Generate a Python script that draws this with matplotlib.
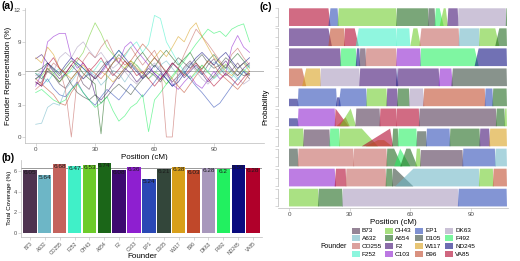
import matplotlib
matplotlib.use("Agg")
import matplotlib.pyplot as plt
from matplotlib.patches import Rectangle
import numpy as np

plt.rcParams['font.family'] = ['Liberation Sans', 'DejaVu Sans']

founders = ["B73", "A632", "CO255", "F252", "OH43", "A654", "F2", "C103",
            "EP1", "D105", "W117", "B96", "DK63", "F492", "ND245", "VA85"]
colors = ["#4E3350", "#6DB6C6", "#C4635D", "#40F0C8", "#6DCC2A", "#1B6618",
          "#3D0A70", "#8E1FD0", "#2A48B5", "#33463A", "#D89F1A", "#C0482A",
          "#A898BC", "#22F060", "#0A0A7E", "#B0002A"]
cmap = dict(zip(founders, colors))

coverage = [6.05, 5.64, 6.68, 6.47, 6.53, 6.74, 6.08, 6.36,
            5.24, 6.21, 6.38, 6.03, 6.28, 6.2, 6.56, 6.28]
expected = 6.25

# Panel (a): founder representation along the chromosome (every 3 cM)
positions = list(range(0, 109, 3))
rep = {
 "B73":   [5.0,5.2,6.5,5.8,5.0,4.6,5.5,6.2,5.0,4.5,5.8,6.5,7.2,6.0,5.5,6.3,7.0,6.4,5.6,6.8,7.5,6.9,6.0,5.2,5.8,6.6,7.2,6.4,5.9,6.8,7.4,6.5,5.8,6.3,7.0,6.2,5.5],
 "A632":  [1.2,1.3,2.8,3.2,3.0,4.5,5.2,6.0,5.5,6.2,5.8,4.9,5.5,6.3,6.0,5.2,6.1,6.8,6.2,5.5,6.0,6.8,7.2,6.5,5.8,6.3,7.0,6.6,5.9,6.2,7.1,6.8,6.0,5.6,6.4,7.0,6.5],
 "CO255": [4.5,5.0,6.2,7.0,6.5,4.5,0.0,5.5,7.2,8.0,7.5,8.5,9.2,8.0,7.0,7.8,8.5,7.6,6.8,7.5,8.2,7.0,0.0,0.0,6.5,7.8,9.0,10.2,9.5,8.8,8.0,7.2,6.5,7.8,8.4,7.5,6.8],
 "F252":  [6.0,5.8,5.2,6.0,6.5,5.8,6.2,7.0,6.5,5.8,6.4,7.2,6.8,7.5,8.2,7.6,8.5,9.0,8.0,8.8,11.5,11.2,9.0,8.0,7.0,6.2,5.5,6.0,6.8,6.2,5.5,6.0,6.6,6.0,5.4,6.2,6.8],
 "OH43":  [5.5,5.8,6.5,6.0,5.2,5.8,6.5,7.2,8.0,9.5,10.8,9.8,8.5,7.8,7.0,6.5,7.2,6.8,6.0,5.5,6.2,5.8,5.0,5.6,6.4,6.0,5.5,6.2,6.8,6.1,5.6,6.3,6.9,6.2,5.8,6.4,5.9],
 "A654":  [6.2,6.5,7.0,6.4,5.8,6.5,7.2,6.8,6.0,5.5,5.0,0.3,6.2,7.0,7.8,7.2,6.5,7.4,8.0,7.2,6.6,7.5,8.2,7.5,6.8,7.4,8.0,7.0,6.4,7.2,7.8,7.0,6.5,7.3,7.9,7.2,6.6],
 "F2":    [7.4,7.8,7.0,6.2,5.5,6.0,6.8,6.2,5.5,6.0,4.0,3.5,4.2,5.0,5.8,6.5,6.0,5.2,5.8,6.5,6.0,5.4,6.2,7.0,6.4,5.6,6.2,6.8,6.0,5.2,5.8,6.6,7.2,6.4,5.8,6.5,7.0],
 "C103":  [4.8,6.0,9.0,9.5,9.8,9.8,7.5,6.5,7.0,6.2,5.5,6.0,6.8,7.5,7.0,8.5,9.0,8.2,7.5,6.8,6.0,5.5,6.2,5.0,4.5,5.2,5.8,5.0,4.6,5.4,6.2,5.5,6.0,8.5,9.6,8.5,8.0],
 "EP1":   [5.2,4.8,5.5,4.6,4.0,3.8,4.5,5.2,4.2,3.5,3.0,3.8,4.5,4.0,3.5,4.2,5.0,4.4,3.8,4.5,5.2,6.0,5.5,4.8,5.6,6.2,5.5,4.8,4.2,3.5,2.8,3.2,4.0,4.8,5.5,6.2,5.8],
 "D105":  [6.0,5.5,6.2,5.8,5.2,6.0,5.0,4.2,3.8,3.5,4.0,3.2,3.8,4.5,5.0,4.5,4.0,4.8,5.5,6.2,5.8,5.2,6.0,6.8,7.5,7.0,6.5,7.2,7.8,7.0,6.5,6.8,7.5,7.0,6.2,5.8,6.0],
 "W117":  [7.5,7.0,8.5,7.8,6.5,6.0,5.5,6.2,6.8,6.0,5.5,6.2,5.8,5.2,5.8,6.5,7.2,6.5,6.0,6.8,7.5,8.2,7.6,8.5,9.5,9.0,10.2,10.8,9.5,8.5,7.5,7.0,6.2,5.8,6.5,7.0,6.2],
 "B96":   [5.5,5.0,4.5,4.0,3.2,3.0,4.2,5.0,5.8,6.5,6.0,5.5,6.2,7.0,7.5,6.8,7.2,8.0,8.8,8.2,7.5,6.8,6.2,5.5,4.8,4.2,5.0,5.8,6.5,7.2,6.8,6.0,5.5,5.0,4.5,5.2,6.0],
 "DK63":  [5.8,6.2,6.8,6.2,7.5,8.0,7.5,8.5,9.0,8.2,7.5,8.0,7.2,6.5,7.0,6.2,5.5,5.0,5.8,6.5,7.0,6.4,5.8,5.2,5.8,6.5,7.0,6.2,5.5,5.0,5.6,6.2,6.8,6.2,5.6,5.0,5.4],
 "F492":  [4.2,4.5,4.0,3.5,3.2,3.5,4.5,5.0,4.2,3.5,2.8,3.2,3.8,2.5,1.5,2.0,2.8,3.2,4.0,0.5,3.5,4.2,5.0,5.8,6.5,7.2,8.0,8.8,9.5,10.2,9.8,10.0,9.5,10.2,10.5,10.7,9.0],
 "ND245": [5.5,6.0,7.0,6.5,6.0,6.8,7.5,7.0,6.5,6.0,5.5,6.2,7.0,7.5,8.2,7.5,6.8,6.2,5.5,6.0,6.8,6.2,5.5,4.8,5.2,6.0,6.8,7.5,8.0,7.4,6.8,7.5,8.0,7.2,6.5,7.0,7.5],
 "VA85":  [5.2,4.8,6.8,7.5,6.5,6.0,6.8,7.5,7.0,6.2,6.8,7.5,6.5,5.8,6.4,7.2,6.6,5.8,6.2,5.5,4.8,5.5,6.2,7.0,6.5,5.8,6.4,7.0,6.2,5.5,4.8,5.4,6.0,5.5,4.9,5.6,6.2],
}

# Panel (c): haplotype mosaics, segments (founder, rise0, rise1, fall0, fall1, prob)
mosaic_rows = [
 [("VA85",0,0,19.5,20.5,1),("EP1",19.5,20.5,24,24.6,1),("OH43",24,24.6,53,53.4,1),
  ("A654",53,53.4,68.7,69,1),("D105",68.7,69,72,72.5,1),("F492",72,72.6,74.5,76.5,1),
  ("OH43",74.5,76.5,77.5,78.6,1),("F2",78.3,78.8,83.4,83.8,1),("DK63",83.4,83.8,107.2,107.5,1),
  ("A654",107.2,107.5,107.8,107.8,1)],
 [("F2",0,0,19.5,21.2,1),("B96",19.5,20.5,27.3,27.7,1),("VA85",27.3,27.7,32.5,34.5,1),
  ("F252",33,34.5,53,53.3,1),("F252",53,53.3,59.5,60,1),("OH43",60,61.5,63.5,65.2,1),
  ("CO255",64.5,65.5,83.9,84.3,1),("A632",83.9,84.3,94,94.3,1),("OH43",94,94.3,102,104,1),
  ("A654",102,104,107.6,107.8,1)],
 [("F2",0,0,25.3,25.8,1),("F492",25.3,25.8,33,33.6,1),("ND245",33,33.6,34.8,35.2,1),
  ("B73",34.8,35.2,37.8,38.2,1),("CO255",37.8,38.2,53,53.4,1),("C103",53,53.4,64.9,65.3,1),
  ("F492",64.9,65.3,91.8,93.8,1),("ND245",91.8,93.8,107.6,107.8,1)],
 [("B96",0,0,6.5,8.5,1),("W117",6.5,8.5,15.4,15.8,1),("DK63",15.4,15.8,34.8,35.2,1),
  ("F2",34.8,35.2,53,53.6,1),("ND245",53,53.3,53.6,54,1),("F2",53.6,54,74,74.6,1),
  ("C103",74,74.6,80.3,81,1),("D105",80.3,81,107.6,107.8,1)],
 [("ND245",0,0,4.3,4.7,0.42),("EP1",4.3,4.7,23.3,23.8,1),("ND245",23.3,23.8,25,25.6,0.5),
  ("EP1",24.5,25.6,38.2,38.6,1),("OH43",38.2,38.6,48.2,48.6,1),("F2",48.2,48.6,53.5,53.9,1),
  ("A654",53.5,53.9,59.3,59.7,1),("DK63",59.3,59.7,66.3,66.9,1),("B96",66.3,66.9,96.8,97.2,1),
  ("EP1",96.8,97.2,100.6,101,1),("A654",100.6,101,107.6,107.8,1)],
 [("ND245",0,0,4.3,4.7,0.45),("C103",4.3,4.7,22.6,23.0,1),("VA85",22.6,23.0,23.0,29.5,1),
  ("B96",23.5,28.0,28.0,30.0,0.5),("OH43",25,30.5,30.5,33.2,1),("B73",32.8,33.3,44.8,45.2,1),
  ("VA85",44.8,45.2,53,53.3,1),("VA85",53,53.3,64.2,64.6,1),("B73",64.2,64.6,102.3,102.7,1),
  ("A654",102.3,102.7,106.5,106.9,1),("OH43",106.5,106.9,107.6,107.8,1)],
 [("OH43",0,0,7,7.4,1),("B73",7,7.4,20,20.4,0.95),("F492",20,20.4,24.8,25.2,1),
  ("OH43",24.8,25.2,36,44,1),("VA85",36,50,50,51.5,1),("B96",38,44,47,51,0.35),
  ("A654",51,51.5,53.8,54.2,1),("F492",53.8,54.2,63,63.4,1),("D105",63,63.4,67.8,68.2,0.85),
  ("EP1",67.8,68.2,79.4,79.8,1),("A654",79.4,79.8,94.2,94.6,1),("F2",94.2,94.6,99,99.5,1),
  ("W117",99,99.5,107.6,107.8,1)],
 [("D105",0,0,4.3,4.7,1),("CO255",4.3,4.7,31.8,32.2,1),("CO255",31.8,32.2,48.2,48.6,1),
  ("A654",48.2,48.6,52,56,1),("F492",52,55,55,60,1),("A654",55,58,60,63.5,1),
  ("OH43",62.5,63.2,64.8,65.2,1),("B73",64.8,65.2,85.8,86.2,0.92),("EP1",85.8,86.2,101.8,102.2,1),
  ("A632",101.8,102.2,107.6,107.8,1)],
 [("C103",0,0,22.6,23.2,1),("VA85",22.6,23.2,28,28.4,1),("CO255",28,28.4,47.8,48.2,1),
  ("A654",47.8,48.2,51,51.4,1),("D105",51,51.4,52.5,61.5,1),("A632",52.5,61.5,93.9,94.3,1),
  ("OH43",93.9,94.3,100.8,101.2,1),("B96",100.8,101.2,107.6,107.8,1)],
 [("OH43",0,0,14.3,14.7,1),("A654",14.3,14.7,26.3,26.7,1),("DK63",26.3,26.7,83.5,83.9,1),
  ("EP1",83.5,83.9,107.6,107.8,1)],
]

W, H = 520, 261
fig = plt.figure(figsize=(W/100, H/100), dpi=100)

def fr(l, t, r, b):
    return [l/W, (H-b)/H, (r-l)/W, (b-t)/H]

gray_txt = "#4D4D4D"
spine_c = "#BBBBBB"

# ---------------- panel a ----------------
axa = fig.add_axes(fr(25, 8, 264, 143))
for f in founders:
    axa.plot(positions, rep[f], color=cmap[f], lw=0.55, alpha=0.6)
axa.axhline(expected, color="#AAAAAA", lw=0.6, zorder=0)
axa.set_xlim(-5.4, 115.3)
axa.set_ylim(-0.57, 12.2)
axa.set_xticks([0, 30, 60, 90])
axa.set_yticks([0, 3, 6, 9, 12])
axa.set_xlabel("Position (cM)", fontsize=5.8, labelpad=1)
axa.set_ylabel("Founder Representation (%)", fontsize=5.6, labelpad=1)
for s in ["top", "right"]:
    axa.spines[s].set_visible(False)
for s in ["left", "bottom"]:
    axa.spines[s].set_color(spine_c)
    axa.spines[s].set_linewidth(0.5)
axa.tick_params(labelsize=4.5, colors=gray_txt, length=2, width=0.4, pad=1)
axa.tick_params(color=spine_c)

# ---------------- panel b ----------------
axb = fig.add_axes(fr(21, 159.5, 262, 236.8))
xb = np.arange(len(founders))
axb.bar(xb, coverage, width=0.9, color=colors, zorder=2)
axb.axhline(expected, color="#999999", lw=0.7, zorder=1)
for i, v in enumerate(coverage):
    axb.text(i, v, f"{v:g}", ha="center", va="top", fontsize=4.6, color="#1a1a1a", zorder=3)
axb.set_xlim(-0.6, 15.6)
axb.set_ylim(-0.337, 7.08)
axb.set_yticks([0, 2, 4, 6])
axb.set_xticks(xb)
axb.set_xticklabels(founders, rotation=45, ha="right", rotation_mode="anchor")
axb.set_ylabel("Total Coverage (%)", fontsize=4.6, labelpad=1)
for s in ["top", "right"]:
    axb.spines[s].set_visible(False)
for s in ["left", "bottom"]:
    axb.spines[s].set_color(spine_c)
    axb.spines[s].set_linewidth(0.5)
axb.tick_params(axis="y", labelsize=4.0, colors=gray_txt, length=2, width=0.4, pad=1)
axb.tick_params(axis="x", labelsize=3.6, colors=gray_txt, length=2, width=0.4, pad=1)
axb.tick_params(color=spine_c)
fig.text(142/W, 1 - 256.5/H, "Founder", fontsize=5.8, ha="center", va="center")

# ---------------- panel c ----------------
axc = fig.add_axes(fr(278, 5, 508, 208.3))
period = 1.1328
nrows = len(mosaic_rows)
for i, row in enumerate(mosaic_rows):
    off = (nrows - 1 - i) * period
    for (f, r0, r1, f0, f1, h) in row:
        axc.fill([r0, r1, f0, f1], [off, off + h, off + h, off], color=cmap[f],
                 alpha=0.58, lw=0)
    axc.plot([-5.44, -5.44], [off, off + 1], color=spine_c, lw=0.5, clip_on=False)
axc.set_xlim(-5.44, 108.3)
axc.set_ylim(-0.105, 11.381)
yt = []
for i in range(nrows):
    off = (nrows - 1 - i) * period
    yt += [off, off + 0.5, off + 1]
axc.set_yticks(yt)
axc.set_yticklabels([])
axc.set_xticks([0, 30, 60, 90])
axc.set_xlabel("Position (cM)", fontsize=5.8, labelpad=1)
axc.set_ylabel("Probability", fontsize=5.6, labelpad=3)
for s in ["top", "right", "left"]:
    axc.spines[s].set_visible(False)
axc.spines["bottom"].set_color(spine_c)
axc.spines["bottom"].set_linewidth(0.5)
axc.tick_params(labelsize=4.5, colors=gray_txt, length=2, width=0.4, pad=1)
axc.tick_params(color=spine_c)

# legend for panel c
fig.text(334/W, 1 - 247/H, "Founder", fontsize=5, ha="center", va="center")
col_x = [351.7, 385, 415, 445]
row_y = [230.7, 238.3, 246, 254]
for k, f in enumerate(founders):
    c, r = divmod(k, 4)
    x0, yc = col_x[c], row_y[r]
    fig.add_artist(Rectangle((x0/W, 1 - (yc + 3)/H), 8.3/W, 6/H, transform=fig.transFigure,
                             facecolor=cmap[f], alpha=0.6, lw=0))
    fig.text((x0 + 10)/W, 1 - yc/H, f, fontsize=4.6, ha="left", va="center")

# panel labels
fig.text(8/W, 1 - 6/H, "(a)", fontsize=7.5, ha="center", va="center", fontweight="bold")
fig.text(8.5/W, 1 - 158/H, "(b)", fontsize=7.5, ha="center", va="center", fontweight="bold")
fig.text(265.5/W, 1 - 7/H, "(c)", fontsize=7.5, ha="center", va="center", fontweight="bold")

fig.savefig("out.png", dpi=100)
